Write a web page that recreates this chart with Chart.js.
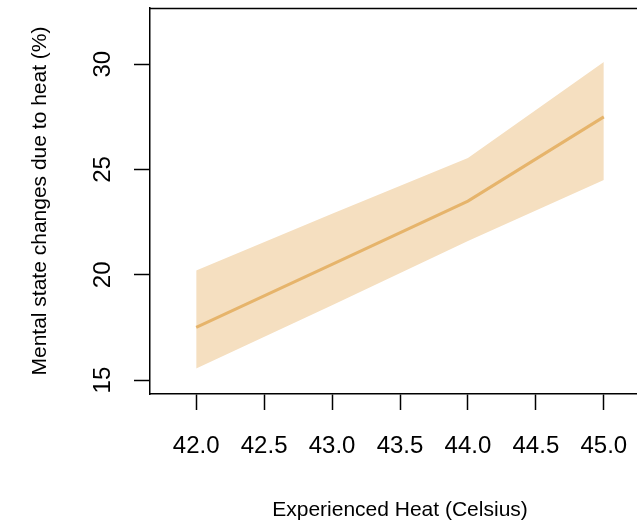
<!DOCTYPE html>
<html>
<head>
<meta charset="utf-8">
<script src="https://cdn.jsdelivr.net/npm/chart.js@4"></script>
<style>
    html, body { margin: 0; padding: 0; overflow: hidden; background: #fff; }
</style>
</head>
<body>
<canvas id="chart" width="665" height="524"></canvas>
<script>
// Data
const heat = [42, 43, 44, 45];
const meanChange = [17.5, 20.5, 23.5, 27.5];
const upperBound = [20.2, 22.9, 25.55, 30.1];
const lowerBound = [15.55, 18.55, 21.6, 24.5];
const xTicks = [42, 42.5, 43, 43.5, 44, 44.5, 45];
const yTicks = [15, 20, 25, 30];

const toPoints = (ys) => heat.map((x, i) => ({ x: x, y: ys[i] }));

// no automatic label padding, we size the axes ourselves
function noPad(scale) {
    scale.paddingTop = 0;
    scale.paddingBottom = 0;
    scale.paddingLeft = 0;
    scale.paddingRight = 0;
}

// top and right edges of the plot box
const frame = {
    id: 'frame',
    afterDraw(chart) {
        const { ctx, chartArea: a } = chart;
        ctx.save();
        ctx.strokeStyle = '#000';
        ctx.lineWidth = 1.5;
        ctx.beginPath();
        ctx.moveTo(a.left, a.top + 0.5);
        ctx.lineTo(a.right, a.top + 0.5);
        ctx.lineTo(a.right, a.bottom);
        ctx.stroke();
        ctx.restore();
    }
};

const ctx = document.getElementById('chart').getContext('2d');
new Chart(ctx, {
    type: 'line',
    data: {
        datasets: [
            {
                label: 'Mean',
                data: toPoints(meanChange),
                borderColor: '#E6B46B',
                borderWidth: 3,
                pointRadius: 0,
                fill: false,
            },
            {
                label: 'Lower',
                data: toPoints(lowerBound),
                borderWidth: 0,
                borderColor: 'rgba(0,0,0,0)',
                pointRadius: 0,
                fill: false,
            },
            {
                label: 'Upper',
                data: toPoints(upperBound),
                borderWidth: 0,
                borderColor: 'rgba(0,0,0,0)',
                backgroundColor: '#F5DFC0',
                pointRadius: 0,
                fill: '-1',
            },
        ],
    },
    options: {
        responsive: false,
        animation: false,
        devicePixelRatio: 1,
        layout: { padding: { left: 0, top: 8, right: 15, bottom: 0 } },
        plugins: {
            legend: { display: false },
            tooltip: { enabled: false },
        },
        scales: {
            x: {
                type: 'linear',
                min: 41.66,
                max: 45.34,
                afterBuildTicks: (scale) => { scale.ticks = xTicks.map(v => ({ value: v })); },
                afterFit: (scale) => { scale.height = 130; noPad(scale); },
                grid: { display: true, drawOnChartArea: false, tickLength: 16, tickColor: '#000', tickWidth: 1.5 },
                border: { display: true, color: '#000', width: 1.5 },
                ticks: {
                    padding: 22,
                    color: '#000',
                    maxRotation: 0,
                    font: { family: 'Liberation Sans', size: 24 },
                    callback: (v) => Number(v).toFixed(1),
                },
                title: {
                    display: true,
                    text: 'Experienced Heat (Celsius)',
                    color: '#000',
                    padding: { top: 0, bottom: 1 },
                    font: { family: 'Liberation Sans', size: 21 },
                },
            },
            y: {
                type: 'linear',
                min: 14.34,
                max: 32.67,
                afterBuildTicks: (scale) => { scale.ticks = yTicks.map(v => ({ value: v })); },
                afterFit: (scale) => { scale.width = 150; noPad(scale); },
                grid: { display: true, drawOnChartArea: false, tickLength: 16, tickColor: '#000', tickWidth: 1.5 },
                border: { display: true, color: '#000', width: 1.5 },
                ticks: {
                    padding: 17,
                    color: '#000',
                    minRotation: 90,
                    maxRotation: 90,
                    crossAlign: 'center',
                    font: { family: 'Liberation Sans', size: 24 },
                },
                title: {
                    display: true,
                    text: 'Mental state changes due to heat (%)',
                    color: '#000',
                    padding: { top: 28, bottom: 0 },
                    font: { family: 'Liberation Sans', size: 21 },
                },
            },
        },
    },
    plugins: [frame],
});
</script>
</body>
</html>
